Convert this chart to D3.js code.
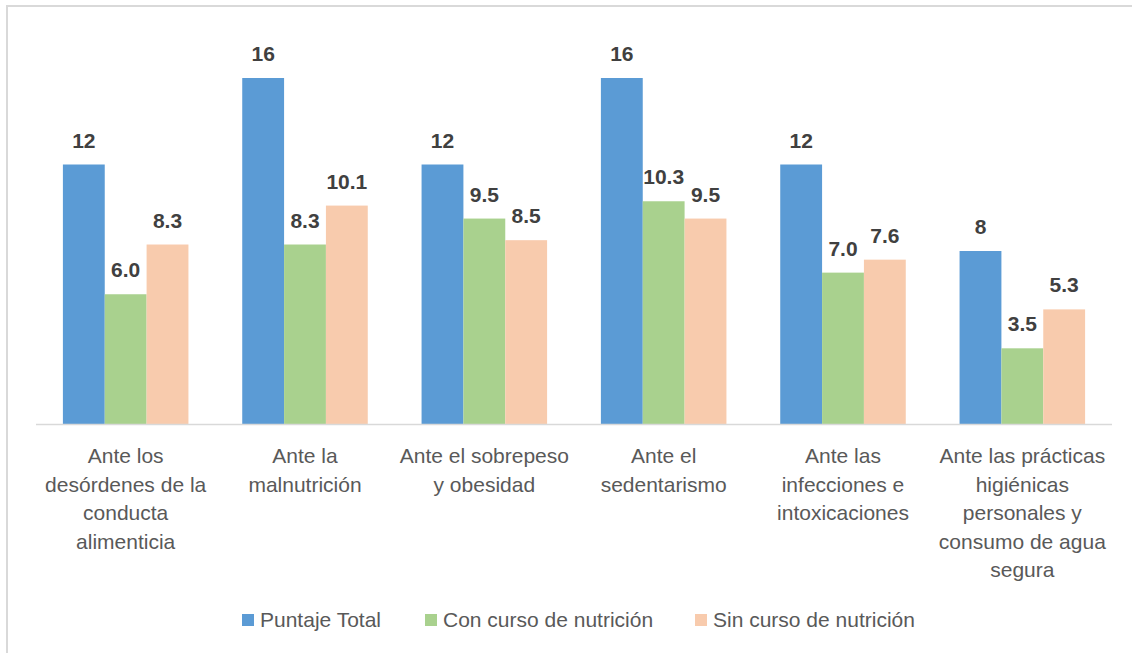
<!DOCTYPE html>
<meta charset='utf-8'>
<div class="chart"></div>
<script src="https://d3js.org/d3.v7.min.js"></script>
<style>
	body { margin: 0; background: #fff; }
	.frame { fill: none; stroke: #d9d9d9; stroke-width: 2px; }
	.value-label { font-family: "Liberation Sans", Arial, sans-serif; font-weight: bold; font-size: 21px; fill: #404040; }
	.cat-label { font-family: "Liberation Sans", Arial, sans-serif; font-size: 21px; fill: #595959; }
	.legend text { font-family: "Liberation Sans", Arial, sans-serif; font-size: 21px; fill: #595959; }
</style>
<script>
	// categories (already split in lines the way the original wraps them)
	var categories = [
		["Ante los", "desórdenes de la", "conducta", "alimenticia"],
		["Ante la", "malnutrición"],
		["Ante el sobrepeso", "y obesidad"],
		["Ante el", "sedentarismo"],
		["Ante las", "infecciones e", "intoxicaciones"],
		["Ante las prácticas", "higiénicas", "personales y", "consumo de agua", "segura"]
	];
	var seriesNames = ["Puntaje Total", "Con curso de nutrición", "Sin curso de nutrición"];
	var seriesColors = ["#5b9bd5", "#a9d18e", "#f8cbad"];
	var puntajeTotal = [12, 16, 12, 16, 12, 8];
	var conCurso = [6.0, 8.3, 9.5, 10.3, 7.0, 3.5];
	var sinCurso = [8.3, 10.1, 8.5, 9.5, 7.6, 5.3];
	// how each series prints its value
	var labelFormats = [d3.format("d"), d3.format(".1f"), d3.format(".1f")];

	var width = 1132, height = 653;
	var svg = d3.select(".chart")
				.append("svg")
				.attr("width", width)
				.attr("height", height);

	// light frame, only top and left edges show in the picture
	svg.append("path")
		.attr("class", "frame")
		.attr("d", "M7,660 L7,6 L1140,6");

	var series = [puntajeTotal, conCurso, sinCurso];

	var x0 = d3.scaleBand()
		.domain(d3.range(categories.length))
		.range([36, 1112])
		.paddingInner(0.3)
		.paddingOuter(0.15);
	var x1 = d3.scaleBand()
		.domain(d3.range(series.length))
		.range([0, x0.bandwidth()]);
	var y = d3.scaleLinear()
		.domain([0, 16])
		.range([424, 78]);

	var groups = svg.append("g")
		.selectAll("g")
		.data(categories)
		.enter()
		.append("g")
		.attr("transform", function(d, i) { return "translate(" + x0(i) + ",0)"; });

	groups.selectAll("rect")
		.data(function(d, i) { return series.map(function(s, k) { return {k: k, v: s[i]}; }); })
		.enter()
		.append("rect")
		.attr("x", function(d) { return x1(d.k); })
		.attr("width", x1.bandwidth())
		.attr("y", function(d) { return y(d.v); })
		.attr("height", function(d) { return y(0) - y(d.v); })
		.attr("fill", function(d) { return seriesColors[d.k]; });

	groups.selectAll(".value-label")
		.data(function(d, i) { return series.map(function(s, k) { return {k: k, v: s[i]}; }); })
		.enter()
		.append("text")
		.attr("class", "value-label")
		.attr("text-anchor", "middle")
		.attr("x", function(d) { return x1(d.k) + x1.bandwidth() / 2; })
		.attr("y", function(d) { return y(d.v) - 17; })
		.text(function(d) { return labelFormats[d.k](d.v); });

	// baseline
	svg.append("line")
		.attr("x1", 36).attr("x2", 1112)
		.attr("y1", y(0) + 0.5).attr("y2", y(0) + 0.5)
		.attr("stroke", "#d9d9d9")
		.attr("stroke-width", 1.5);

	// category labels
	groups.append("text")
		.attr("class", "cat-label")
		.attr("text-anchor", "middle")
		.selectAll("tspan")
		.data(function(d) { return d; })
		.enter()
		.append("tspan")
		.attr("x", x0.bandwidth() / 2)
		.attr("y", function(d, j) { return 463 + j * 28.5; })
		.text(function(d) { return d; });

	// legend
	var legendX = [242, 425, 695];
	var legend = svg.append("g")
		.attr("class", "legend")
		.selectAll("g")
		.data(seriesNames)
		.enter()
		.append("g")
		.attr("transform", function(d, i) { return "translate(" + legendX[i] + ",614)"; });
	legend.append("rect")
		.attr("width", 12).attr("height", 12)
		.attr("fill", function(d, i) { return seriesColors[i]; });
	legend.append("text")
		.attr("x", 18)
		.attr("y", 13)
		.text(function(d) { return d; });
</script>
